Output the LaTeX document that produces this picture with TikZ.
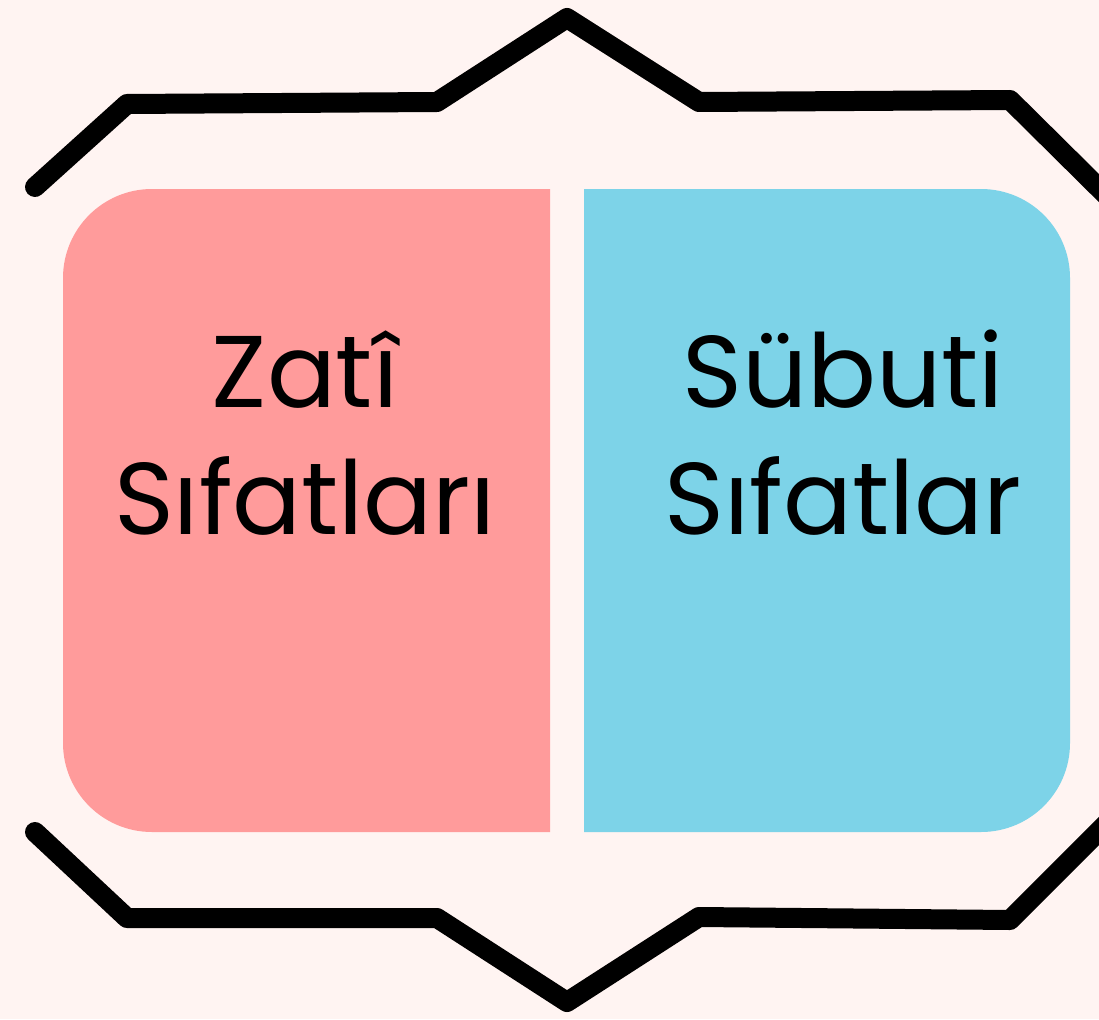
\documentclass[tikz,border=0pt]{standalone}
\usepackage{fontspec}
\setmainfont{Poppins}
\definecolor{bgc}{HTML}{FFF4F2}
\definecolor{pinkc}{HTML}{FF9B9B}
\definecolor{bluec}{HTML}{7DD3E8}
\begin{document}
\begin{tikzpicture}[x=1pt,y=-1pt,
  zig/.style={line width=20pt,line cap=round,line join=round,black},
  lbl/.style={align=center,font=\fontsize{102}{127}\selectfont,text=black,inner sep=0pt}]
\useasboundingbox[fill=bgc] (0,0) rectangle (1099,1019);
% boxes
\fill[pinkc] (550,189) -- (152,189) arc[start angle=-90,end angle=-180,radius=89] -- (63,743) arc[start angle=180,end angle=90,radius=89] -- (550,832) -- cycle;
\fill[bluec] (584,189) -- (981,189) arc[start angle=-90,end angle=0,radius=89] -- (1070,743) arc[start angle=0,end angle=90,radius=89] -- (584,832) -- cycle;
% zigzag lines
\draw[zig] (35,187) -- (127,104) -- (437,102) -- (567,18) -- (699,102) -- (1010,100) -- (1110,199);
\draw[zig] (35,832) -- (127,918) -- (437,918) -- (567,1002) -- (699,917) -- (1010,920) -- (1110,820);
% labels
\node[lbl] (zati) at (305,433) {Zatî\\Sıfatları};
\node[lbl] (subuti) at (843,433) {Sübuti\\Sıfatlar};
\end{tikzpicture}
\end{document}
